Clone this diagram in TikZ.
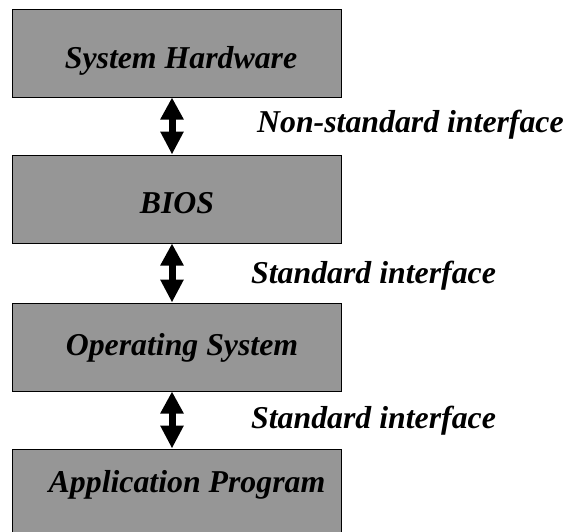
\documentclass[tikz,border=0pt]{standalone}
\usepackage{fontspec}
\setmainfont{Liberation Serif}
\usetikzlibrary{arrows.meta}
\definecolor{boxgray}{RGB}{150,150,150}
\tikzset{
  box/.style={draw=black, line width=1pt, fill=boxgray, minimum width=329pt, minimum height=88pt, inner sep=0pt},
  lbl/.style={font=\fontsize{31.8}{36}\selectfont\bfseries\itshape, inner sep=0pt},
  dblarrow/.style={line width=7pt, {Triangle[width=22pt,length=22pt]}-{Triangle[width=22pt,length=23pt]}}
}
\begin{document}
\begin{tikzpicture}[x=1pt,y=-1pt]
\useasboundingbox (0,0) rectangle (571,531);
\clip (0,0) rectangle (571,531);
\node[box] (hw) at (176.5,53) {};
\node[box] (bios) at (176.5,199) {};
\node[box] (os) at (176.5,347) {};
\node[box, minimum height=96pt] (app) at (176.5,497) {};
\node[lbl, anchor=base] (hwt) at (181,68) {System Hardware};
\node[lbl, anchor=base] (biost) at (177,213) {BIOS};
\node[lbl, anchor=base] (ost) at (182,355) {Operating System};
\node[lbl, anchor=base] (appt) at (187,492) {Application Program};
\coordinate (ax) at (172,0);
\draw[dblarrow] (hw.south -| ax) -- (bios.north -| ax);
\draw[dblarrow] (bios.south -| ax) -- (os.north -| ax);
\draw[dblarrow] (os.south -| ax) -- (app.north -| ax);
\node[lbl, anchor=base west] (l1) at (257,132) {Non-standard interface};
\node[lbl, anchor=base west] (l2) at (251,283) {Standard interface};
\node[lbl, anchor=base west] (l3) at (251,428) {Standard interface};
\end{tikzpicture}
\end{document}
